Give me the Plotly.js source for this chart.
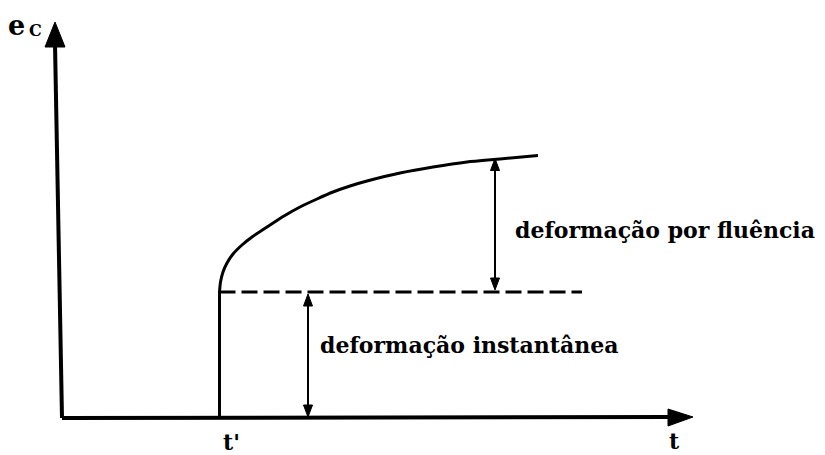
<!DOCTYPE html>
<html>
<head>
<meta charset="utf-8">
<script src="https://cdn.plot.ly/plotly-3.0.1.min.js"></script>
<style>html,body{margin:0;padding:0;background:#fff;} #chart{width:825px;height:455px;}</style>
</head>
<body>
<div id="chart"></div>
<script>
// Creep curve (time t, strain e_C), units: arbitrary
const creepT = [157.5, 158.5, 161, 165, 171, 180, 190, 205, 222, 238, 255, 271, 288, 305, 338, 371, 405, 438, 476];
const creepE = [126, 136, 146, 155, 164, 173, 181, 191, 202, 211, 219, 226, 232, 237, 245, 251, 256, 259, 262.5];
// loading time t' and instantaneous strain
const tLoad = [157.5];
const eInstant = [126];
const dashEndT = [520];
// dimension arrows positions
const arrowInstantT = [246];
const arrowCreepT = [433];
// labels
const labels = {
  creep: "deformação por fluência",
  instant: "deformação instantânea",
  yAxis: "e",
  ySub: "C",
  tPrime: "t'",
  t: "t"
};

const BLACK = "#000";
const traces = [];
traces.push({x: creepT, y: creepE, mode: "lines", line: {color: BLACK, width: 3, shape: "spline", smoothing: 0.6}, hoverinfo: "skip"});
traces.push({x: [tLoad[0], tLoad[0]], y: [0, eInstant[0]], mode: "lines", line: {color: BLACK, width: 3}, hoverinfo: "skip"});
traces.push({x: [tLoad[0], dashEndT[0]], y: [eInstant[0], eInstant[0]], mode: "lines", line: {color: BLACK, width: 3, dash: "16px,6px"}, hoverinfo: "skip"});

const shapes = [];
function tri(p1, p2, p3) {
  shapes.push({type: "path", xref: "x", yref: "y",
    path: `M${p1[0]},${p1[1]} L${p2[0]},${p2[1]} L${p3[0]},${p3[1]} Z`,
    fillcolor: BLACK, line: {color: BLACK, width: 1}});
}
function seg(x0, y0, x1, y1, w) {
  shapes.push({type: "line", xref: "x", yref: "y", x0, y0, x1, y1, line: {color: BLACK, width: w}});
}
const xEnd = 631, yEndX = -7, yEnd = 396;
seg(0, 0, xEnd - 22, 1, 4);
tri([xEnd - 25, -8], [xEnd, 1], [xEnd - 25, 9]);
seg(0, 0, yEndX, yEnd - 22, 4);
tri([yEndX - 10, yEnd - 25], [yEndX, yEnd], [yEndX + 10, yEnd - 25]);
function dbl(x, y0, y1) {
  const hw = 4.5, hl = 12;
  seg(x, y0 + hl - 2, x, y1 - hl + 2, 2);
  tri([x - hw, y0 + hl], [x, y0], [x + hw, y0 + hl]);
  tri([x - hw, y1 - hl], [x, y1], [x + hw, y1 - hl]);
}
const creepAtArrow = 259.5;
dbl(arrowInstantT[0], 1, eInstant[0] - 2);
dbl(arrowCreepT[0], eInstant[0] + 2, creepAtArrow);

const FAM = "DejaVu Serif";
const f = (size) => ({family: FAM, size: size, color: BLACK});
const B = (s) => "<b>" + s + "</b>";
const annotations = [
  {x: 451, y: 188, xref: "x", yref: "y", text: B(labels.creep), showarrow: false, xanchor: "left", yanchor: "middle", font: f(22)},
  {x: 256, y: 73, xref: "x", yref: "y", text: B(labels.instant), showarrow: false, xanchor: "left", yanchor: "middle", font: f(22)},
  {x: -36, y: 393, xref: "x", yref: "y", text: B(labels.yAxis), showarrow: false, xanchor: "right", yanchor: "middle", font: f(27), borderpad: 0},
  {x: -34, y: 388, xref: "x", yref: "y", text: B(labels.ySub), showarrow: false, xanchor: "left", yanchor: "middle", font: f(16), borderpad: 0},
  {x: 159, y: -24, xref: "x", yref: "y", text: B(labels.tPrime), showarrow: false, xanchor: "left", yanchor: "middle", font: f(22)},
  {x: 605, y: -23, xref: "x", yref: "y", text: B(labels.t), showarrow: false, xanchor: "left", yanchor: "middle", font: f(22)}
];

const layout = {
  width: 825, height: 455,
  margin: {l: 0, r: 0, t: 0, b: 0},
  font: {family: FAM, color: BLACK},
  paper_bgcolor: "#fff", plot_bgcolor: "#fff",
  showlegend: false,
  xaxis: {range: [-62, 763], visible: false, fixedrange: true},
  yaxis: {range: [-37, 418], visible: false, fixedrange: true},
  shapes: shapes,
  annotations: annotations
};
Plotly.newPlot("chart", traces, layout, {staticPlot: true, displayModeBar: false});
</script>
</body>
</html>
